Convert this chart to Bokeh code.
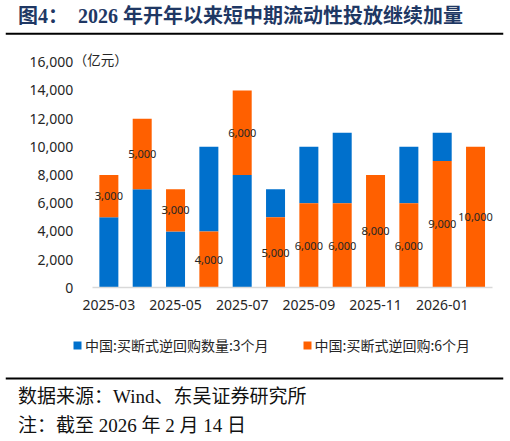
from bokeh.plotting import figure
from bokeh.models import (Range1d, Label, Legend, LegendItem, LinearAxis, Span,
                          NumeralTickFormatter, FixedTicker, ColumnDataSource)
from bokeh.embed import file_html
from bokeh.resources import INLINE
from bokeh.core.properties import value

# ---------------- data ----------------
months = ["2025-03", "2025-04", "2025-05", "2025-06", "2025-07", "2025-08",
          "2025-09", "2025-10", "2025-11", "2025-12", "2026-01", "2026-02"]
x_tick_labels = ["2025-03", "", "2025-05", "", "2025-07", "", "2025-09", "",
                 "2025-11", "", "2026-01", ""]
outright_3m = [5000, 7000, 4000, 6000, 8000, 2000, 4000, 5000, 0, 4000, 2000, 0]
outright_6m = [3000, 5000, 3000, 4000, 6000, 5000, 6000, 6000, 8000, 6000, 9000, 10000]
# which series sits at the bottom of each stacked bar
bottom_series = ["3m", "3m", "3m", "6m", "3m", "6m", "6m", "6m", "6m", "6m", "6m", "6m"]
y_ticks = [0, 2000, 4000, 6000, 8000, 10000, 12000, 14000, 16000]
series_names = ["中国:买断式逆回购数量:3个月", "中国:买断式逆回购:6个月"]
unit_text = "（亿元）"
title_text = "图4：\u00a0\u00a02026\u00a0年开年以来短中期流动性投放继续加量"
source_text = "数据来源：Wind、东吴证券研究所"
note_text = "注：截至\u00a02026\u00a0年\u00a02\u00a0月\u00a014\u00a0日"

BLUE = "#0070CC"
ORANGE = "#FF6000"
TXT = "#262626"
NAVY = "#1F3864"
MIXED_FONT = "Liberation Serif, Noto Sans CJK SC"

# ---------------- stacking ----------------
idx = list(range(len(months)))
b_bottom, b_top, o_bottom, o_top = [], [], [], []
for b, o, s in zip(outright_3m, outright_6m, bottom_series):
    if s == "3m":
        bb, ob = 0, b
    else:
        ob, bb = 0, o
    b_bottom.append(bb); b_top.append(bb + b)
    o_bottom.append(ob); o_top.append(ob + o)

src = ColumnDataSource(dict(
    x=idx, month=months, b_bottom=b_bottom, b_top=b_top, o_bottom=o_bottom, o_top=o_top,
    o_mid=[(a + c) / 2 for a, c in zip(o_bottom, o_top)],
    o_txt=[f"{v:,}" for v in outright_6m],
))

# ---------------- page geometry ----------------
W, H = 510, 441
FRAME_L, FRAME_R = 5, 503      # frame spans these page x (rules span the frame)
FRAME_T, FRAME_B = 0, 441
PX_PER_CAT = 400 / len(months)
CAT0_EDGE = 91.7               # page x of the left edge of the first category
ZERO_Y, TOP_Y = 287.3, 61.8    # page y of 0 and of the top tick
y_max = y_ticks[-1]
u_per_px = y_max / (ZERO_Y - TOP_Y)


def px2x(px):
    return -0.5 + (px - CAT0_EDGE) / PX_PER_CAT


def py2y(py):
    return (ZERO_Y - py) * u_per_px


p = figure(x_range=Range1d(px2x(FRAME_L), px2x(FRAME_R)),
           y_range=Range1d(py2y(FRAME_B), py2y(FRAME_T)),
           width=W, height=H, output_backend="svg", toolbar_location=None,
           x_axis_location=None, y_axis_location=None, title=None,
           min_border_left=FRAME_L, min_border_right=W - FRAME_R,
           min_border_top=FRAME_T, min_border_bottom=H - FRAME_B)
p.outline_line_color = None
p.xgrid.grid_line_color = None
p.ygrid.grid_line_color = None
p.background_fill_color = "white"
p.border_fill_color = "white"

rb = p.vbar(x="x", bottom="b_bottom", top="b_top", width=0.57, source=src,
            fill_color=BLUE, line_color=None)
ro = p.vbar(x="x", bottom="o_bottom", top="o_top", width=0.57, source=src,
            fill_color=ORANGE, line_color=None)
p.text(x="x", y="o_mid", text="o_txt", source=src, text_align="center",
       text_baseline="middle", text_font=value("Noto Sans"), text_font_size="11px",
       text_color=TXT)

# y axis (drawn at left edge of first category)
ya = LinearAxis(fixed_location=-0.5)
ya.ticker = FixedTicker(ticks=y_ticks)
ya.formatter = NumeralTickFormatter(format="0,0")
ya.axis_line_color = None
ya.major_tick_line_color = None
ya.minor_tick_line_color = None
ya.major_tick_out = 0
ya.major_tick_in = 0
ya.major_label_standoff = 19
ya.major_label_text_font = "Noto Sans"
ya.major_label_text_font_size = "14px"
ya.major_label_text_color = TXT
p.add_layout(ya, "left")

# x axis (drawn at y = 0)
xa = LinearAxis(fixed_location=0, bounds=(-0.5, len(months) - 0.5))
xa.ticker = FixedTicker(ticks=[i for i, l in zip(idx, x_tick_labels) if l])
xa.major_label_overrides = {i: l for i, l in zip(idx, x_tick_labels) if l}
xa.axis_line_color = "#D9D9D9"
xa.axis_line_width = 1.5
xa.major_tick_line_color = None
xa.minor_tick_line_color = None
xa.major_tick_out = 0
xa.major_tick_in = 0
xa.major_label_standoff = 12
xa.major_label_text_font = "Noto Sans"
xa.major_label_text_font_size = "14px"
xa.major_label_text_color = TXT
p.add_layout(xa, "below")

# unit label
p.add_layout(Label(x=-0.5, x_offset=-18.5, y=y_max, y_offset=3.5, text=unit_text,
                   text_align="left", text_baseline="middle",
                   text_font="Noto Sans CJK SC", text_font_size="13.5px",
                   text_color=TXT))

legend = Legend(items=[LegendItem(label=series_names[0], renderers=[rb]),
                       LegendItem(label=series_names[1], renderers=[ro])],
                location=(72 - FRAME_L, FRAME_B - 354.5), orientation="horizontal",
                glyph_width=10, glyph_height=10, label_standoff=3, spacing=33,
                padding=0, margin=0, border_line_color=None, background_fill_alpha=0,
                label_text_font="Noto Sans CJK SC", label_text_font_size="14px",
                label_text_color=TXT, label_height=20)
p.add_layout(legend)

# title, rules and footer
p.add_layout(Label(x=px2x(17.5), y=py2y(15.5), text=title_text, text_align="left",
                   text_baseline="middle", text_font=MIXED_FONT, text_font_style="bold",
                   text_font_size="20px", text_color=NAVY))
p.add_layout(Span(location=py2y(33.3), dimension="width", line_color="#000000",
                  line_width=2))
p.add_layout(Span(location=py2y(378), dimension="width", line_color="#000000",
                  line_width=2))
p.add_layout(Label(x=px2x(17.5), y=py2y(395.5), text=source_text, text_align="left",
                   text_baseline="middle", text_font=MIXED_FONT,
                   text_font_size="19px", text_color="#111111"))
p.add_layout(Label(x=px2x(17.5), y=py2y(425), text=note_text, text_align="left",
                   text_baseline="middle", text_font=MIXED_FONT,
                   text_font_size="19px", text_color="#111111"))

open("out.html", "w").write(file_html(p, INLINE))
